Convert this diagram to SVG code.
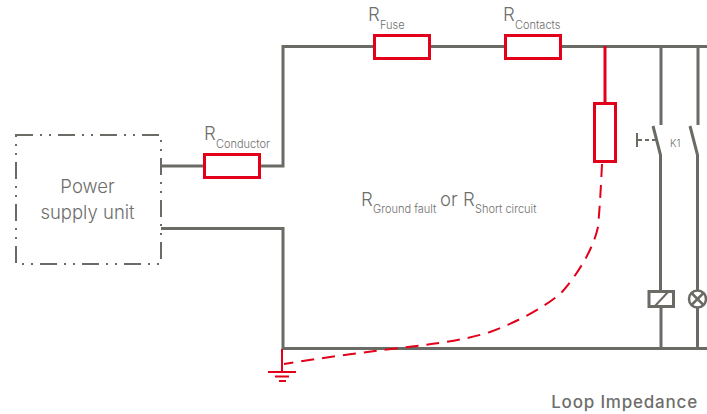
<svg xmlns="http://www.w3.org/2000/svg" width="707" height="414" viewBox="0 0 707 414">
<style>
text{font-family:Inter,"Liberation Sans",sans-serif;fill:#6e6e6c;font-weight:300}
.w{fill:none;stroke:#6b6b66;stroke-width:3}
.r{fill:#fff;stroke:#e2001a;stroke-width:3}
.rl{fill:none;stroke:#e2001a;stroke-width:2}
.m{font-size:18.500px}.s{font-size:11px}
</style>
<rect width="707" height="414" fill="#fff"/>
<g id="connectors">
<path class="w" d="M161 166H283V46.500H707"/>
<path class="w" d="M161 228.500H283V348.500H707"/>
<path class="w" d="M661 46V125M653 126L660.500 155V291M661 307V349"/>
<path class="w" d="M698 46V125M690 126L697.500 155V290M697.500 308V349"/>
<path class="rl" style="stroke-width:3" d="M605 46V103"/>
<path class="rl" d="M282 349V372"/>
<path class="rl" stroke-dasharray="13 8" d="M602 164C601 185 600 205 598 227C593 250 577 275 562 292C545 308 510 325 490 332C455 343 420 345 383 350C350 354 315 359 284 364"/>
<path fill="none" stroke="#6b6b66" stroke-width="2" stroke-dasharray="4 3" d="M638 140H657"/>
<path fill="none" stroke="#6b6b66" stroke-width="2" d="M637 133V147"/>
</g>
<g id="psu">
<rect x="16" y="135" width="145" height="129" fill="none" stroke="#6b6b66" stroke-width="2" stroke-dasharray="17 7 2 7 2 7"/>
<text class="m" text-anchor="middle" x="87.500" y="193">Power</text>
<text class="m" text-anchor="middle" x="87.500" y="219">supply unit</text>
</g>
<g id="r-conductor"><rect class="r" x="204.500" y="154.500" width="55" height="23"/>
<text class="m" x="204" y="140">R</text><text class="s" x="216" y="148">Conductor</text></g>
<g id="r-fuse"><rect class="r" x="374.500" y="35.500" width="55" height="23"/>
<text class="m" x="368" y="21">R</text><text class="s" x="380" y="29">Fuse</text></g>
<g id="r-contacts"><rect class="r" x="505.500" y="35.500" width="55" height="23"/>
<text class="m" x="503" y="21">R</text><text class="s" x="515" y="29">Contacts</text></g>
<g id="r-fault"><rect class="r" x="594.500" y="103.500" width="21" height="58"/></g>
<g id="label-fault"><text class="m" x="361" y="206">R</text><text class="s" x="373" y="213">Ground fault</text><text class="m" x="440" y="206">or</text><text class="m" x="463" y="206">R</text><text class="s" x="475" y="213">Short circuit</text></g>
<g id="k1"><text font-size="10" x="670" y="147">K1</text></g>
<g id="relay"><rect x="649" y="291.500" width="24.500" height="15" fill="#fff" stroke="#6b6b66" stroke-width="3"/><path d="M655 306L668 292" stroke="#6b6b66" stroke-width="2" fill="none"/></g>
<g id="lamp"><circle cx="697.500" cy="299" r="8.500" fill="#fff" stroke="#6b6b66" stroke-width="2.500"/><path d="M691.500 293L703.500 305M703.500 293L691.500 305" stroke="#6b6b66" stroke-width="2.500" fill="none"/></g>
<g id="ground"><path d="M268 372H296M275 376.500H289M279 381H286" stroke="#e2001a" stroke-width="2" fill="none"/></g>
<text x="698" y="408" text-anchor="end" font-size="17" letter-spacing=".8" style="font-weight:500">Loop Impedance</text>
</svg>
